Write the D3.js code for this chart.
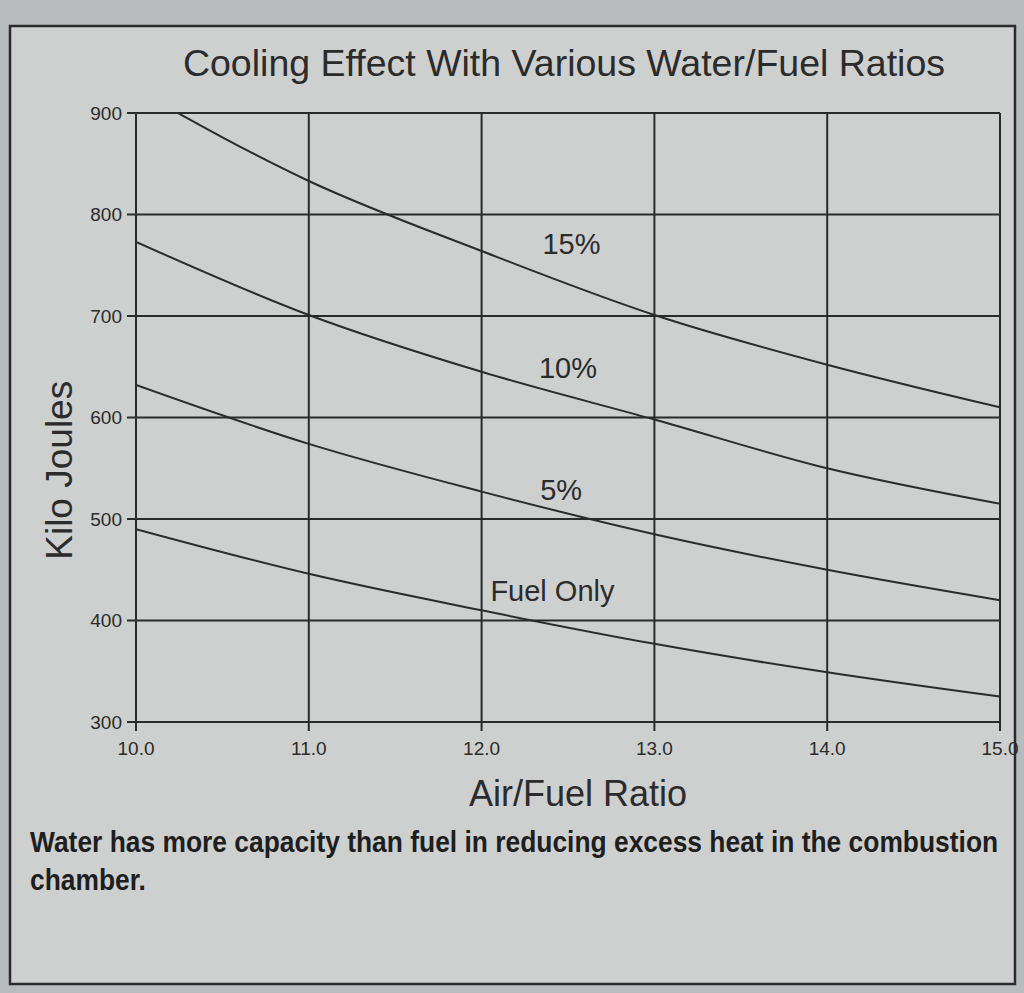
<!DOCTYPE html>
<html>
<head>
<meta charset="utf-8">
<script src="https://cdn.jsdelivr.net/npm/d3@7"></script>
<style>
  html, body { margin: 0; padding: 0; background: #b9bcbc; }
  svg { display: block; }
</style>
</head>
<body>
<svg id="chart"></svg>
<script>
// Air/fuel ratios along the x axis
const airFuelRatios = [10.0, 11.0, 12.0, 13.0, 14.0, 15.0];

// Kilo joules for each curve
const fuelOnly = [490, 446, 410, 377, 349, 325];
const water5 = [632, 574, 527, 485, 450, 420];
const water10 = [773, 701, 645, 598, 550, 515];
const water15 = [923, 833, 764, 701, 652, 610];

const seriesNames = ["Fuel Only", "5%", "10%", "15%"];
// where each curve label sits, in data units
const labelRatio = [12.41, 12.46, 12.5, 12.52];
const labelJoules = [429, 529, 649, 771];

const xTicks = [10, 11, 12, 13, 14, 15];
const yTicks = [300, 400, 500, 600, 700, 800, 900];

const title = "Cooling Effect With Various Water/Fuel Ratios";
const xTitle = "Air/Fuel Ratio";
const yTitle = "Kilo Joules";
const caption = [
  "Water has more capacity than fuel in reducing excess heat in the combustion",
  "chamber."
];

const width = 1024;
const height = 993;
const margin = { top: 113, right: 24, bottom: 271, left: 136 };
const ink = "#2b2b2b";
const font = "'Liberation Sans', Arial, sans-serif";

const svg = d3.select("#chart")
  .attr("width", width)
  .attr("height", height);

// page of the booklet
svg.append("rect")
  .attr("x", 10).attr("y", 26)
  .attr("width", 1005).attr("height", 958)
  .attr("fill", "#cdd0cf")
  .attr("stroke", ink)
  .attr("stroke-width", 2.5);

const x = d3.scaleLinear()
  .domain([10, 15])
  .range([margin.left, width - margin.right]);

const y = d3.scaleLinear()
  .domain([300, 900])
  .range([height - margin.bottom, margin.top]);

// grid lines at every tick
svg.append("g")
  .selectAll("line.h")
  .data(yTicks)
  .enter()
  .append("line")
  .attr("x1", x(10) - 9)
  .attr("x2", x(15))
  .attr("y1", d => y(d))
  .attr("y2", d => y(d))
  .attr("stroke", ink)
  .attr("stroke-width", 2);

svg.append("g")
  .selectAll("line.v")
  .data(xTicks)
  .enter()
  .append("line")
  .attr("x1", d => x(d))
  .attr("x2", d => x(d))
  .attr("y1", y(900))
  .attr("y2", y(300) + 9)
  .attr("stroke", ink)
  .attr("stroke-width", 2);

// tick labels
svg.append("g")
  .selectAll("text")
  .data(yTicks)
  .enter()
  .append("text")
  .attr("x", x(10) - 14)
  .attr("y", d => y(d))
  .attr("dy", "0.35em")
  .attr("text-anchor", "end")
  .attr("font-family", font)
  .attr("font-size", 19)
  .attr("fill", ink)
  .text(d => d);

svg.append("g")
  .selectAll("text")
  .data(xTicks)
  .enter()
  .append("text")
  .attr("x", d => x(d))
  .attr("y", y(300) + 33)
  .attr("text-anchor", "middle")
  .attr("font-family", font)
  .attr("font-size", 19)
  .attr("fill", ink)
  .text(d => d3.format(".1f")(d));

// keep the 15% curve inside the frame
svg.append("clipPath")
  .attr("id", "plot-clip")
  .append("rect")
  .attr("x", x(10))
  .attr("y", y(900))
  .attr("width", x(15) - x(10))
  .attr("height", y(300) - y(900));

const line = d3.line()
  .x(d => x(d[0]))
  .y(d => y(d[1]))
  .curve(d3.curveMonotoneX);

const allSeries = [fuelOnly, water5, water10, water15];

svg.append("g")
  .attr("clip-path", "url(#plot-clip)")
  .selectAll("path")
  .data(allSeries)
  .enter()
  .append("path")
  .attr("d", values => line(values.map((v, i) => [airFuelRatios[i], v])))
  .attr("fill", "none")
  .attr("stroke", ink)
  .attr("stroke-width", 2);

// curve labels
svg.append("g")
  .selectAll("text")
  .data(seriesNames)
  .enter()
  .append("text")
  .attr("x", (d, i) => x(labelRatio[i]))
  .attr("y", (d, i) => y(labelJoules[i]))
  .attr("dy", "0.35em")
  .attr("text-anchor", "middle")
  .attr("font-family", font)
  .attr("font-size", 29)
  .attr("fill", ink)
  .text(d => d);

// titles
svg.append("text")
  .attr("x", 564)
  .attr("y", 76)
  .attr("text-anchor", "middle")
  .attr("font-family", font)
  .attr("font-size", 37.5)
  .attr("fill", ink)
  .text(title);

svg.append("text")
  .attr("x", 578)
  .attr("y", 806)
  .attr("text-anchor", "middle")
  .attr("font-family", font)
  .attr("font-size", 36)
  .attr("fill", ink)
  .text(xTitle);

svg.append("text")
  .attr("transform", "translate(72," + y(548) + ") rotate(-90)")
  .attr("text-anchor", "middle")
  .attr("font-family", font)
  .attr("font-size", 37)
  .attr("fill", ink)
  .text(yTitle);

// caption under the chart, squeezed like the narrow bold print face
svg.append("g")
  .attr("transform", "translate(30,0) scale(0.91,1)")
  .selectAll("text")
  .data(caption)
  .enter()
  .append("text")
  .attr("x", 0)
  .attr("y", (d, i) => 852 + i * 38)
  .attr("font-family", font)
  .attr("font-weight", "bold")
  .attr("font-size", 29)
  .attr("fill", "#1e1e1e")
  .text(d => d);
</script>
</body>
</html>
